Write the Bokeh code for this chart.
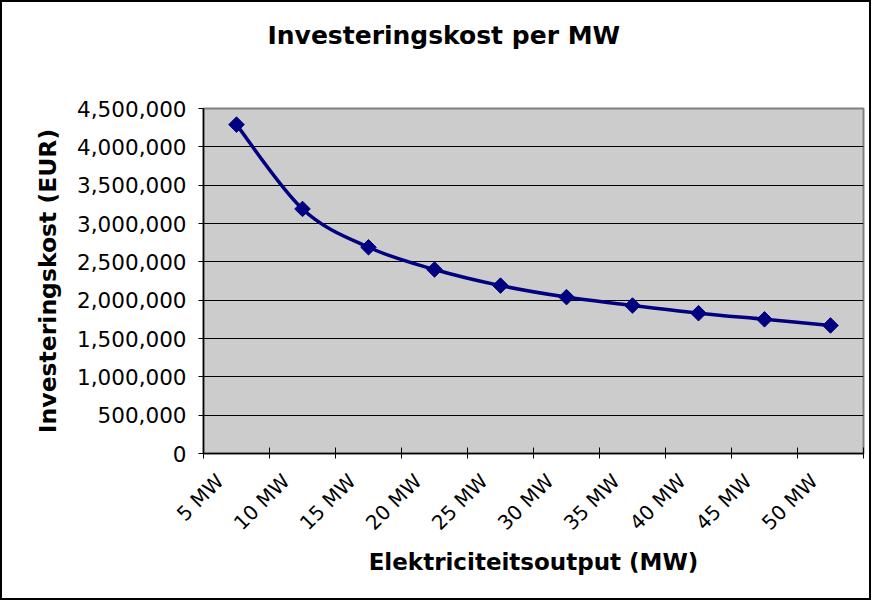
import math
from bokeh.plotting import figure
from bokeh.models import Range1d, FixedTicker, NumeralTickFormatter, Title
from bokeh.embed import file_html
from bokeh.resources import INLINE

# ---- data ----
categories = ["5 MW", "10 MW", "15 MW", "20 MW", "25 MW",
              "30 MW", "35 MW", "40 MW", "45 MW", "50 MW"]
costs = [4290000, 3190000, 2690000, 2400000, 2190000,
         2040000, 1930000, 1830000, 1750000, 1670000]
y_ticks = [0, 500000, 1000000, 1500000, 2000000, 2500000,
           3000000, 3500000, 4000000, 4500000]
title_text = "Investeringskost per MW"

FONT = "DejaVu Sans"
NAVY = "#000080"

n = len(categories)
xc = [i + 0.5 for i in range(n)]          # category centres
bounds = [float(i) for i in range(n + 1)]  # category boundaries
label_pos = [c - 0.25 for c in xc]         # tick-label anchors (slightly left, Excel style)

W, H = 871, 600
ML, MR, MT, MB = 201, 10, 106, 149

p = figure(width=W, height=H, output_backend="svg", toolbar_location=None,
           x_range=Range1d(0, n), y_range=Range1d(y_ticks[0], y_ticks[-1]),
           min_border_left=ML, min_border_right=MR,
           min_border_top=MT, min_border_bottom=MB)
p.styles = {"border": "2px solid black"}
p.title.visible = False

p.background_fill_color = "#CCCCCC"
p.border_fill_color = "white"
p.outline_line_color = "#808080"
p.outline_line_width = 2

# spacer between frame and title, then the title itself (stacked outward)
p.add_layout(Title(text=" ", text_font_size="1px", standoff=56), "above")
p.add_layout(Title(text=title_text, text_font=FONT, text_font_size="25px",
                   text_font_style="bold", text_color="black",
                   align="left", offset=64, vertical_align="bottom",
                   standoff=0), "above")

# grid
p.xgrid.visible = False
p.ygrid.ticker = FixedTicker(ticks=y_ticks)
p.ygrid.grid_line_color = "black"
p.ygrid.grid_line_width = 1

# y axis
ya = p.yaxis[0]
ya.ticker = FixedTicker(ticks=y_ticks)
ya.formatter = NumeralTickFormatter(format="0,0")
ya.axis_label = "Investeringskost (EUR)"
ya.axis_label_text_font = FONT
ya.axis_label_text_font_size = "23.5px"
ya.axis_label_text_font_style = "bold"
ya.axis_label_text_color = "black"
ya.axis_label_standoff = 12
ya.major_label_text_font = FONT
ya.major_label_text_font_size = "21.5px"
ya.major_label_text_color = "black"
ya.major_label_standoff = 12
ya.major_tick_in = 0
ya.major_tick_out = 5
ya.major_tick_line_color = "black"
ya.minor_tick_line_color = None
ya.axis_line_color = "black"
ya.axis_line_width = 1.5

# x axis
xa = p.xaxis[0]
xa.ticker = FixedTicker(ticks=label_pos, minor_ticks=bounds)
xa.major_label_overrides = {label_pos[i]: categories[i] for i in range(n)}
xa.major_label_orientation = math.pi / 4
xa.major_label_text_font = FONT
xa.major_label_text_font_size = "20px"
xa.major_label_text_color = "black"
xa.major_label_standoff = 18
xa.major_tick_line_color = None
xa.minor_tick_line_color = "black"
xa.minor_tick_in = 6
xa.minor_tick_out = 5
xa.axis_line_color = "black"
xa.axis_line_width = 1.5
xa.axis_label = "Elektriciteitsoutput (MW)"
xa.axis_label_text_font = FONT
xa.axis_label_text_font_size = "23px"
xa.axis_label_text_font_style = "bold"
xa.axis_label_text_color = "black"
xa.axis_label_standoff = 3

# smoothed line (Catmull-Rom style Bezier through the data points)
x0, y0, x1, y1, cx0, cy0, cx1, cy1 = [], [], [], [], [], [], [], []
for i in range(n - 1):
    pm = max(i - 1, 0)
    pp = min(i + 2, n - 1)
    x0.append(xc[i]); y0.append(costs[i])
    x1.append(xc[i + 1]); y1.append(costs[i + 1])
    cx0.append(xc[i] + (xc[i + 1] - xc[pm]) / 6)
    cy0.append(costs[i] + (costs[i + 1] - costs[pm]) / 6)
    cx1.append(xc[i + 1] - (xc[pp] - xc[i]) / 6)
    cy1.append(costs[i + 1] - (costs[pp] - costs[i]) / 6)
p.bezier(x0=x0, y0=y0, x1=x1, y1=y1, cx0=cx0, cy0=cy0, cx1=cx1, cy1=cy1,
         line_color=NAVY, line_width=3.5)

p.scatter(xc, costs, marker="square", size=11, angle=math.pi / 4,
          fill_color=NAVY, line_color=NAVY)

open("out.html", "w").write(file_html(p, INLINE))
